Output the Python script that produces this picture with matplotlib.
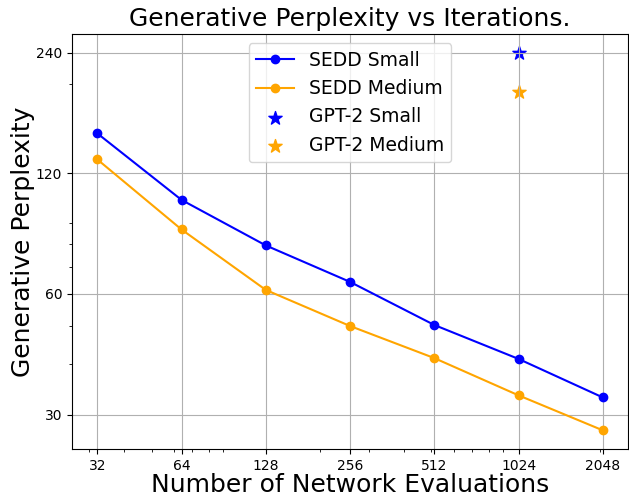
import numpy as np
import matplotlib
matplotlib.use("Agg")
import matplotlib.pyplot as plt
from matplotlib.ticker import NullFormatter

# данные
steps = [32, 64, 128, 256, 512, 1024, 2048]
sedd_small = [151, 103, 79.3, 64.3, 50.2, 41.3, 33.1]
sedd_medium = [130, 86.9, 61.4, 49.9, 41.5, 33.5, 27.4]
gpt2_steps = [1024]
gpt2_small = [240]
gpt2_medium = [191]

y_ticks = [30, 60, 120, 240]

fig = plt.figure(figsize=(6.29, 4.98), dpi=100)
ax = fig.add_axes([0.1145, 0.098, 0.884, 0.834])

ax.plot(steps, sedd_small, marker='o', color='blue', label='SEDD Small')
ax.plot(steps, sedd_medium, marker='o', color='orange', label='SEDD Medium')
ax.scatter(gpt2_steps, gpt2_small, marker='*', s=100, color='blue', label='GPT-2 Small')
ax.scatter(gpt2_steps, gpt2_medium, marker='*', s=100, color='orange', label='GPT-2 Medium')

ax.set_xscale('log')
ax.set_yscale('log')
ax.set_xticks(steps)
ax.set_xticklabels([str(s) for s in steps])
ax.set_yticks(y_ticks)
ax.set_yticklabels([str(t) for t in y_ticks])
ax.xaxis.set_minor_formatter(NullFormatter())
ax.yaxis.set_minor_formatter(NullFormatter())

ax.set_xlabel('Number of Network Evaluations', fontsize=18, labelpad=0)
ax.set_ylabel('Generative Perplexity', fontsize=18, labelpad=1)
ax.set_title('Generative Perplexity vs Iterations.', fontsize=18)
ax.legend(loc='upper center', fontsize=13.5)
ax.grid(True)

fig.savefig('out.png', dpi=100)
